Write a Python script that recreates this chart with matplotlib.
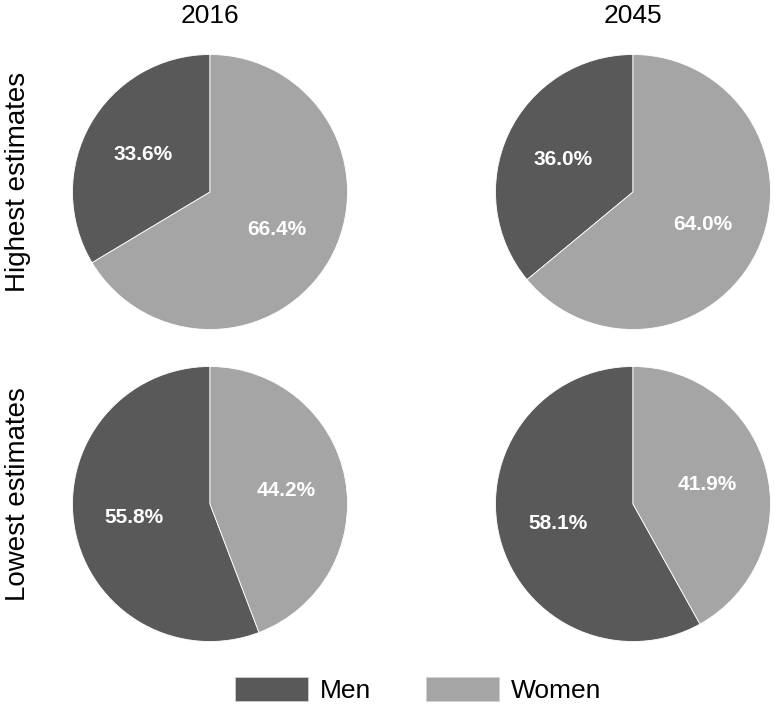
import matplotlib
matplotlib.use('Agg')
import matplotlib.pyplot as plt
from matplotlib.patches import Patch

plt.rcParams['font.family'] = ['Liberation Sans', 'DejaVu Sans']

# data
years = ['2016', '2045']
row_labels = ['Highest estimates', 'Lowest estimates']
groups = ['Men', 'Women']
men_pct = [[33.6, 36.0], [55.8, 58.1]]
women_pct = [[66.4, 64.0], [44.2, 41.9]]
colors = ['#595959', '#a5a5a5']

W, H = 774, 707
fig = plt.figure(figsize=(W / 100, H / 100), dpi=100)

# pie centres in pixels (x from left, y from top) and radius
centres_x = [210, 633]
centres_y = [192, 504]
radius = 137.5

for i, row in enumerate(row_labels):
    for j, year in enumerate(years):
        cx, cy = centres_x[j], centres_y[i]
        ax = fig.add_axes([(cx - radius) / W, 1 - (cy + radius) / H,
                           2 * radius / W, 2 * radius / H])
        wedges, texts, autotexts = ax.pie(
            [men_pct[i][j], women_pct[i][j]],
            colors=colors, startangle=90, counterclock=True,
            autopct='%.1f%%', pctdistance=0.56,
            wedgeprops=dict(edgecolor='white', linewidth=0.6),
            textprops=dict(color='white', fontsize=15, fontweight='bold'))
        ax.set_xlim(-1, 1)
        ax.set_ylim(-1, 1)
        ax.set_aspect('equal')
        ax.axis('off')

        if i == 0:
            fig.text(cx / W, 1 - 23 / H, year, ha='center', va='baseline',
                     fontsize=19)
    fig.text(25 / W, 1 - (centres_y[i] - 10) / H, row, rotation=90,
             rotation_mode='anchor', ha='center', va='baseline', fontsize=20)

handles = [Patch(facecolor=c, edgecolor='#d0d0d0', linewidth=0.6) for c in colors]
fig.legend(handles, groups, loc='center', bbox_to_anchor=(418 / W, 1 - 690 / H),
           ncol=2, frameon=False, fontsize=19, handlelength=2.75,
           handleheight=1.0, handletextpad=0.45, columnspacing=2.1)

fig.savefig('out.png', dpi=100)
